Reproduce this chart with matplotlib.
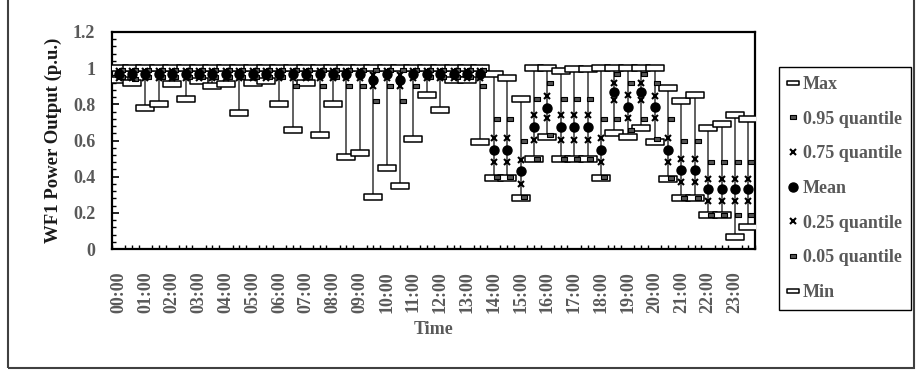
import matplotlib
matplotlib.use("Agg")
import matplotlib.pyplot as plt
import numpy as np
from matplotlib.path import Path
from matplotlib.lines import Line2D
from matplotlib.patches import Rectangle

# half-hourly statistics of WF1 output (p.u.)
hours = ["%02d:00" % h for h in range(24)]

p_max = [1.0]*28 + [0.97, 0.945, 0.83, 1.0, 1.0, 0.985, 0.995, 0.995,
                    1.0, 1.0, 1.0, 1.0, 1.0, 0.89, 0.82, 0.85,
                    0.67, 0.69, 0.74, 0.72]
q95 = [0.99]*28 + [0.72, 0.72, 0.60, 0.83, 0.92, 0.83, 0.83, 0.83,
                   0.72, 0.97, 0.92, 0.97, 0.92, 0.72, 0.60, 0.60,
                   0.48, 0.48, 0.48, 0.48]
q75 = [0.985]*19 + [0.96, 0.985, 0.96] + [0.985]*6 + \
      [0.615, 0.615, 0.49, 0.74, 0.846, 0.74, 0.74, 0.74,
       0.615, 0.92, 0.85, 0.92, 0.846, 0.615, 0.495, 0.495,
       0.385, 0.385, 0.385, 0.385]
p_mean = [0.965]*19 + [0.935, 0.965, 0.935] + [0.965]*6 + \
         [0.55, 0.55, 0.43, 0.675, 0.78, 0.675, 0.675, 0.675,
          0.55, 0.867, 0.787, 0.87, 0.787, 0.55, 0.437, 0.437,
          0.33, 0.33, 0.33, 0.33]
q25 = [0.945]*19 + [0.90, 0.945, 0.90] + [0.945]*6 + \
      [0.48, 0.48, 0.36, 0.605, 0.726, 0.605, 0.605, 0.605,
       0.48, 0.824, 0.726, 0.824, 0.726, 0.48, 0.372, 0.372,
       0.265, 0.265, 0.265, 0.265]
q05 = [0.95, 0.94, 0.95, 0.95, 0.95, 0.95, 0.95, 0.95, 0.95, 0.95, 0.95, 0.95,
       0.95, 0.90, 0.95, 0.90, 0.95, 0.90, 0.90, 0.82, 0.90, 0.82, 0.90, 0.95,
       0.95, 0.95, 0.95, 0.90,
       0.40, 0.40, 0.29, 0.50, 0.63, 0.50, 0.50, 0.50,
       0.40, 0.72, 0.66, 0.72, 0.61, 0.39, 0.28, 0.28,
       0.19, 0.19, 0.19, 0.19]
p_min = [0.935, 0.92, 0.78, 0.80, 0.91, 0.83, 0.93, 0.90, 0.91, 0.75, 0.92, 0.93,
         0.80, 0.66, 0.92, 0.63, 0.80, 0.51, 0.53, 0.29, 0.45, 0.35, 0.61, 0.85,
         0.77, 0.935, 0.935, 0.59,
         0.39, 0.39, 0.28, 0.50, 0.62, 0.50, 0.50, 0.50,
         0.39, 0.64, 0.62, 0.667, 0.59, 0.385, 0.28, 0.28,
         0.19, 0.19, 0.068, 0.12]

x = np.arange(len(p_max))

plt.rcParams['font.family'] = ['Liberation Serif', 'DejaVu Serif']
plt.rcParams['font.weight'] = 'bold'
grey = '#595959'

# custom markers
box = Path([(-1, -0.3), (1, -0.3), (1, 0.3), (-1, 0.3), (-1, -0.3)],
           [Path.MOVETO, Path.LINETO, Path.LINETO, Path.LINETO, Path.CLOSEPOLY])
dash = Path([(-1, -0.6), (1, -0.6), (1, 0.6), (-1, 0.6), (-1, -0.6)],
            [Path.MOVETO, Path.LINETO, Path.LINETO, Path.LINETO, Path.CLOSEPOLY])

fig = plt.figure(figsize=(9.16, 3.70), dpi=100)
ax = fig.add_axes([112/916, 121/370, 643/916, 217/370])

ax.vlines(x, p_min, p_max, color='#606060', lw=1.4, zorder=1)

boxstyle = dict(ls='none', marker=box, ms=13, mfc='white', mec='black', mew=1.1, zorder=3)
dashstyle = dict(ls='none', marker=dash, ms=4.5, mfc='#555555', mec='black', mew=0.8, zorder=4)
xstyle = dict(ls='none', marker='x', ms=5, mec='black', mew=1.5, zorder=5)
ax.plot(x, p_max, **boxstyle)
ax.plot(x, p_min, **boxstyle)
ax.plot(x + 0.22, q95, **dashstyle)
ax.plot(x + 0.22, q05, **dashstyle)
ax.plot(x, q75, **xstyle)
ax.plot(x, q25, **xstyle)
ax.plot(x, p_mean, ls='none', marker='o', ms=6.5, mfc='black', mec='black', zorder=6)

ax.set_xlim(-0.5, len(x) - 0.5)
ax.set_ylim(0, 1.2)
ax.set_yticks(np.arange(0, 1.21, 0.2))
ax.set_yticklabels(['0', '0.2', '0.4', '0.6', '0.8', '1', '1.2'])
ax.set_yticks(np.arange(0, 1.2, 0.04), minor=True)
ax.set_xticks(np.arange(0, len(x), 2))
ax.set_xticklabels(hours, rotation=90)
ax.set_xticks(np.arange(-0.5, len(x), 0.5), minor=True)

ax.tick_params(axis='y', which='major', direction='in', length=5, width=1.2,
               labelsize=13, labelcolor=grey, pad=12)
ax.tick_params(axis='y', which='minor', direction='in', length=3, width=1)
ax.tick_params(axis='x', which='major', direction='in', length=0,
               labelsize=13, labelcolor=grey, pad=16)
ax.tick_params(axis='x', which='minor', direction='in', length=3, width=1)
for s in ax.spines.values():
    s.set_linewidth(1.6)
    s.set_color('black')

ax.set_ylabel('WF1 Power Output (p.u.)', fontsize=13.5, fontweight='bold', color='#1a1a1a', labelpad=8)
ax.set_xlabel('Time', fontsize=13, fontweight='bold', color=grey, labelpad=6)

handles = [
    Line2D([], [], ls='none', marker=box, ms=9, mfc='white', mec='black', mew=1.1),
    Line2D([], [], ls='none', marker=dash, ms=4.5, mfc='#555555', mec='black', mew=0.8),
    Line2D([], [], ls='none', marker='x', ms=5, mec='black', mew=1.5),
    Line2D([], [], ls='none', marker='o', ms=6.5, mfc='black', mec='black'),
    Line2D([], [], ls='none', marker='x', ms=5, mec='black', mew=1.5),
    Line2D([], [], ls='none', marker=dash, ms=4.5, mfc='#555555', mec='black', mew=0.8),
    Line2D([], [], ls='none', marker=box, ms=9, mfc='white', mec='black', mew=1.1),
]
labels = ['Max', '0.95 quantile', '0.75 quantile', 'Mean', '0.25 quantile', '0.05 quantile', 'Min']
leg = fig.legend(handles, labels, loc='upper right', bbox_to_anchor=(911/916, 1 - 67/370),
                 frameon=True, fancybox=False, edgecolor='black', framealpha=1,
                 prop={'size': 13, 'weight': 'bold'}, labelcolor=grey,
                 handlelength=0.6, handletextpad=0.25, labelspacing=0.98,
                 borderpad=0.5, borderaxespad=0)
leg.get_frame().set_linewidth(1.0)

# outer chart border
fig.patches.append(Rectangle((8/916, 2/370), 906/916, 1.2, transform=fig.transFigure,
                             fill=False, edgecolor='#404040', lw=1.5))

fig.savefig('out.png', dpi=100)
